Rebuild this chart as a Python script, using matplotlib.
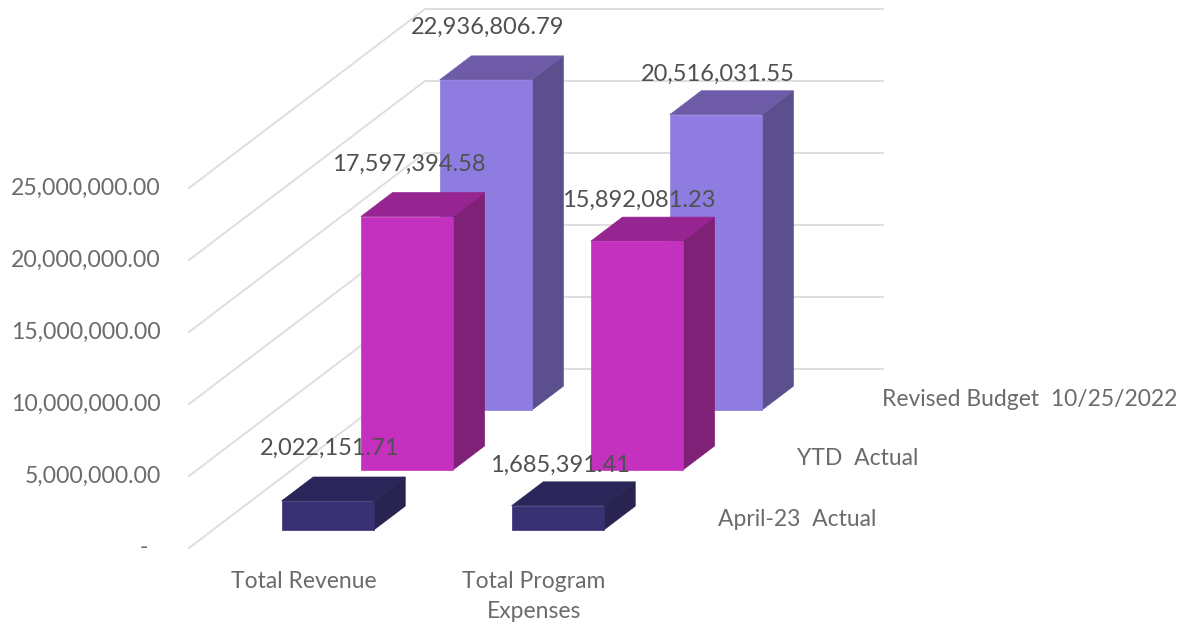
import matplotlib
matplotlib.use('Agg')
import matplotlib.pyplot as plt
from matplotlib.patches import Polygon

plt.rcParams['font.family'] = ['Lato', 'DejaVu Sans']

categories = ['Total Revenue', 'Total Program\nExpenses']
series_names = ['April-23  Actual', 'YTD  Actual', 'Revised Budget  10/25/2022']
april = [2022151.71, 1685391.41]
ytd = [17597394.58, 15892081.23]
revised = [22936806.79, 20516031.55]
ticks = [0, 5000000, 10000000, 15000000, 20000000, 25000000]

front_col = ['#3A3174', '#C431BF', '#8F7CE0']
side_col = ['#282350', '#7E2177', '#5C4F8E']
top_col = ['#2B2659', '#962591', '#6E5BA8']

W, H = 1188, 626
PX = 5000000 / 72.0   # value per pixel
Y0 = 548              # pixel row of value 0
DEPTH_X, DEPTH_Y = 236, 179
BAR_W = 92
BAR_D = 0.134
cat_x = [258, 488]
ser_depth = [0.1, 0.436, 0.77]
label_gap = [52.5, 40.5]
name_shift = [-10, -10, -4]


def proj(x, d, v):
    # oblique projection: depth moves up and to the right
    return (x + d * DEPTH_X, v + d * DEPTH_Y * PX)


fig = plt.figure(figsize=(W / 100, H / 100), dpi=100)
ax = fig.add_axes([0, 0, 1, 1])
ax.set_xlim(0, W)
ax.set_ylim(-(H - Y0) * PX, Y0 * PX)
ax.axis('off')

# gridlines: floor/side diagonal then along the back wall
for t in ticks:
    p0 = proj(189, 0, t)
    p1 = proj(189, 1, t)
    ax.plot([p0[0], p1[0], 883], [p0[1], p1[1], p1[1]], color='#DEDEDE', lw=1.4, zorder=1)
    lab = '-' if t == 0 else format(t, ',.2f')
    ax.text(148 if t == 0 else 161, t, lab, ha='right', va='center', fontsize=16.6, color='#6B6B6B')

# back row first so the nearer bars cover it
all_vals = [april, ytd, revised]
for s in [2, 1, 0]:
    d = ser_depth[s]
    for c in range(2):
        v = all_vals[s][c]
        x = cat_x[c]
        x2 = x + BAR_W
        d2 = d + BAR_D
        z = 5 + (2 - s)
        ax.add_patch(Polygon([proj(x2, d, 0), proj(x2, d2, 0), proj(x2, d2, v), proj(x2, d, v)],
                             fc=side_col[s], ec=side_col[s], lw=0.5, zorder=z))
        ax.add_patch(Polygon([proj(x, d, v), proj(x2, d, v), proj(x2, d2, v), proj(x, d2, v)],
                             fc=top_col[s], ec=top_col[s], lw=0.5, zorder=z))
        ax.add_patch(Polygon([proj(x, d, 0), proj(x2, d, 0), proj(x2, d, v), proj(x, d, v)],
                             fc=front_col[s], ec=front_col[s], lw=0.5, zorder=z))
        px, py = proj(x + BAR_W / 2 + 2, d, v)
        ax.text(px, py + label_gap[c] * PX, format(v, ',.2f'), ha='center', va='center',
                fontsize=17, color='#505050', zorder=20)
    # series name on the depth axis
    px, py = proj(cat_x[1] + BAR_W + 124 + name_shift[s], d, 0)
    ax.text(px, py + 11 * PX, series_names[s], ha='left', va='center', fontsize=16.5, color='#6B6B6B')

for c in range(2):
    ax.text(cat_x[c] + BAR_W / 2, -23 * PX, categories[c], ha='center', va='top',
            fontsize=16.5, color='#6B6B6B', linespacing=1.55)

fig.savefig('out.png', dpi=100)
